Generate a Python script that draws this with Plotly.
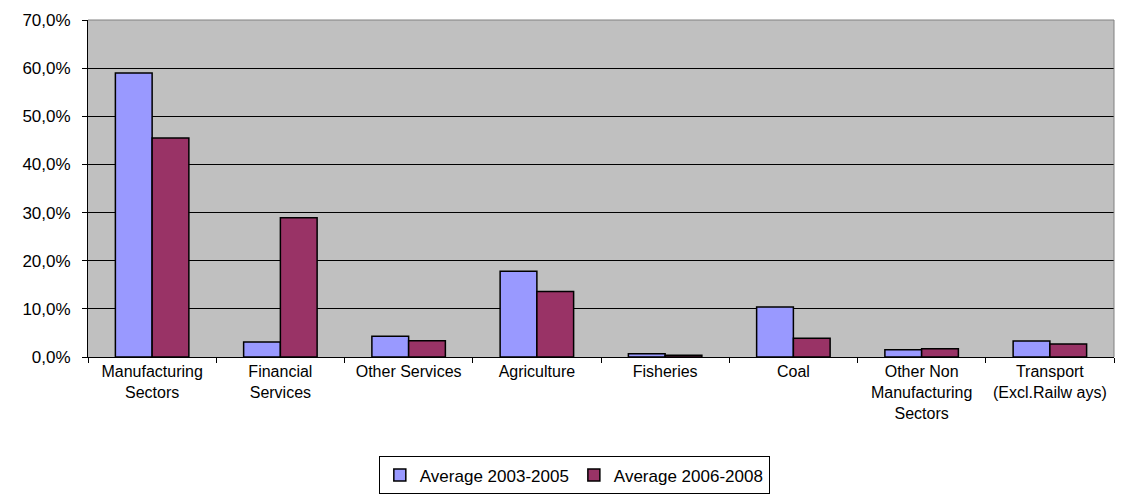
import plotly.graph_objects as go

categories = [
    "Manufacturing<br>Sectors",
    "Financial<br>Services",
    "Other Services",
    "Agriculture",
    "Fisheries",
    "Coal",
    "Other Non<br>Manufacturing<br>Sectors",
    "Transport<br>(Excl.Railw ays)",
]
series_2003_2005 = [59.0, 3.1, 4.3, 17.8, 0.7, 10.4, 1.5, 3.3]
series_2006_2008 = [45.5, 28.9, 3.4, 13.6, 0.35, 3.9, 1.7, 2.7]
y_ticks = [0, 10, 20, 30, 40, 50, 60, 70]
y_tick_labels = [f"{v},0%" for v in y_ticks]

font = dict(family="Liberation Sans, Arial, sans-serif", size=16, color="black")

fig = go.Figure()
fig.add_trace(go.Bar(
    name="Average 2003-2005", x=categories, y=series_2003_2005,
    marker=dict(color="#9999FF", line=dict(color="black", width=1.5)),
))
fig.add_trace(go.Bar(
    name="Average 2006-2008", x=categories, y=series_2006_2008,
    marker=dict(color="#993366", line=dict(color="black", width=1.5)),
))

fig.update_layout(
    width=1121, height=501,
    margin=dict(l=88, r=7, t=20, b=132),
    paper_bgcolor="white",
    plot_bgcolor="#C0C0C0",
    font=font,
    barmode="group",
    bargap=0.427,
    bargroupgap=0,
    showlegend=True,
    legend=dict(
        orientation="h",
        x=0.474, xanchor="center",
        y=-0.295, yanchor="top",
        bordercolor="black", borderwidth=1,
        bgcolor="white",
        font=dict(family="Liberation Sans, Arial, sans-serif", size=17, color="black"),
        itemwidth=30,
        tracegroupgap=0,
    ),
    xaxis=dict(
        showline=True, linecolor="black", linewidth=1,
        ticks="outside", ticklen=5, tickcolor="black",
        tickson="boundaries",
        showgrid=False,
        tickfont=dict(size=16),
    ),
    yaxis=dict(
        range=[0, 70],
        tickmode="array",
        tickvals=y_ticks,
        ticktext=y_tick_labels,
        showline=True, linecolor="black", linewidth=1,
        ticks="outside", ticklen=5, tickcolor="black",
        ticklabelstandoff=8,
        showgrid=True, gridcolor="black", gridwidth=1,
        zeroline=False,
        tickfont=dict(size=17),
    ),
    shapes=[
        dict(type="line", xref="paper", yref="paper", x0=0, x1=1, y0=1, y1=1,
             line=dict(color="#808080", width=1)),
        dict(type="line", xref="paper", yref="paper", x0=1, x1=1, y0=0, y1=1,
             line=dict(color="#808080", width=1)),
    ],
)

fig.write_html("out.html")
